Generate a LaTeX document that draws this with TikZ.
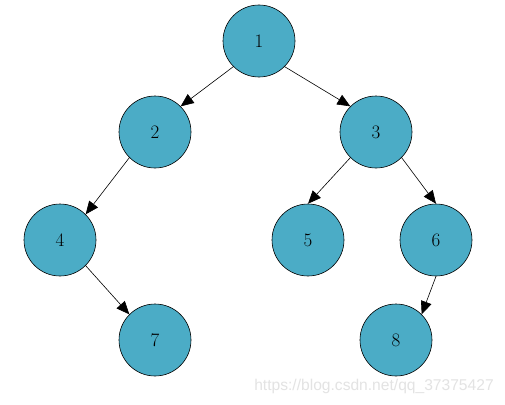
\documentclass[tikz,border=0pt]{standalone}
\usepackage{fontspec}
\newfontfamily\wmfont{Liberation Sans}
\usetikzlibrary{arrows.meta}
\definecolor{nodeblue}{HTML}{4BACC6}
\tikzset{
  tnode/.style={circle, draw=black, fill=nodeblue, minimum size=72pt, inner sep=0pt, line width=0.6pt, font=\fontsize{19}{21}\selectfont},
  edge/.style={draw=black, line width=0.6pt, -{Triangle[length=13pt,width=11pt]}}
}
\begin{document}
\begin{tikzpicture}[x=1pt,y=-1pt]
\useasboundingbox (0,0) rectangle (505,404);
\fill[white] (0,0) rectangle (505,404);
\node[tnode] (n1) at (259,41) {1};
\node[tnode] (n2) at (155,132) {2};
\node[tnode] (n3) at (376,132) {3};
\node[tnode] (n4) at (60,240) {4};
\node[tnode] (n5) at (308,240) {5};
\node[tnode] (n6) at (436,240) {6};
\node[tnode] (n7) at (155,340) {7};
\node[tnode] (n8) at (396,340) {8};
\draw[edge] (n1.225) -- (n2.45);
\draw[edge] (n1.-45) -- (n3.135);
\draw[edge] (n2.225) -- (n4.45);
\draw[edge] (n3.225) -- (n5.north);
\draw[edge] (n3.-45) -- (n6.north);
\draw[edge] (n4.-45) -- (n7.135);
\draw[edge] (n6.south) -- (n8.45);
\node[anchor=center, text=black!11, font=\wmfont\fontsize{15.6}{17}\selectfont, inner sep=0pt] (wm) at (374,386) {https://blog.csdn.net/qq\_37375427};
\end{tikzpicture}
\end{document}
